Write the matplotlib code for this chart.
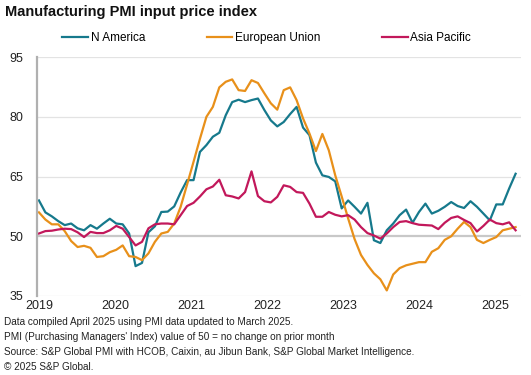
import numpy as np
import matplotlib.pyplot as plt

plt.rcParams['font.family'] = ['Liberation Sans', 'DejaVu Sans']

# Monthly data, Jan 2019 - Mar 2025 --------------------------------
n_america = [59.0, 56.0, 55.0, 53.8, 52.8, 53.2, 52.0, 51.5, 52.8, 51.9,
             53.2, 54.4, 53.2, 53.0, 50.7, 42.5, 43.3, 51.0, 52.5, 56.1,
             56.2, 57.5, 61.0, 64.1, 64.1, 71.2, 72.9, 75.0, 76.0, 80.4,
             83.7, 84.3, 83.7, 84.2, 84.6, 81.7, 79.1, 77.6, 78.7, 80.7,
             82.5, 77.3, 75.4, 68.5, 65.3, 64.9, 63.8, 57.0, 59.0, 57.4,
             55.7, 58.4, 49.0, 48.3, 51.5, 53.2, 55.3, 56.7, 53.4, 56.1,
             58.2, 55.7, 56.4, 57.4, 58.6, 57.6, 57.1, 58.8, 57.4, 55.7,
             54.0, 58.0, 58.0, 62.0, 65.7]
eu = [56.0, 54.2, 53.0, 53.0, 51.3, 48.8, 47.3, 47.6, 47.1, 44.8,
      45.0, 46.0, 46.6, 47.7, 45.0, 44.8, 44.0, 45.7, 48.6, 50.7,
      51.1, 53.2, 57.4, 63.0, 68.7, 74.5, 80.0, 82.5, 87.4, 88.8,
      89.4, 86.7, 86.5, 89.2, 88.5, 85.9, 83.4, 81.8, 86.7, 87.4,
      84.2, 79.6, 75.8, 71.4, 75.7, 71.6, 65.3, 60.0, 54.5, 49.3,
      45.3, 42.8, 40.7, 39.2, 36.4, 40.4, 42.0, 42.7, 43.1, 43.5,
      43.5, 46.1, 47.0, 49.1, 50.0, 51.9, 53.6, 52.3, 49.1, 48.3,
      49.1, 49.8, 51.5, 51.9, 52.3]
asia_pac = [50.7, 51.3, 51.4, 51.7, 51.9, 51.8, 51.0, 49.8, 51.1, 50.8,
            50.8, 51.5, 52.6, 51.9, 49.8, 47.7, 48.6, 52.0, 53.0, 53.2,
            53.2, 53.0, 55.3, 57.6, 58.4, 60.0, 61.8, 62.5, 64.2, 60.3,
            60.0, 59.5, 61.1, 66.3, 60.1, 58.8, 58.5, 59.9, 62.8, 62.4,
            61.1, 60.9, 58.2, 54.9, 54.9, 56.1, 55.4, 55.0, 55.3, 54.2,
            52.3, 50.8, 50.2, 49.4, 50.7, 52.3, 53.6, 53.8, 53.3, 52.9,
            52.8, 52.7, 51.8, 53.4, 54.6, 55.0, 54.1, 53.3, 51.2, 52.6,
            54.2, 53.3, 53.0, 53.5, 51.5]
years = ['2019', '2020', '2021', '2022', '2023', '2024', '2025']
yticks = [35, 50, 65, 80, 95]

months = np.arange(len(n_america))

# Figure -----------------------------------------------------------
fig = plt.figure(figsize=(5.31, 3.75), dpi=100)
ax = fig.add_axes([0.0697, 0.2107, 0.911, 0.637])

ax.plot(months, n_america, color='#16798c', lw=1.6, label='N America')
ax.plot(months, eu, color='#e8901a', lw=1.6, label='European Union')
ax.plot(months, asia_pac, color='#c2185b', lw=1.6, label='Asia Pacific')

ax.set_xlim(-0.3, 74.8)
ax.set_ylim(35, 95)
ax.set_yticks(yticks)
ax.set_xticks([i * 11.8 for i in range(len(years))])
ax.set_xticklabels(years)
ax.tick_params(axis='both', length=0, labelsize=9, colors='#222222')
ax.tick_params(axis='y', pad=10)
ax.tick_params(axis='x', pad=3)

# Grid and spines
for v in [65, 80, 95]:
    ax.axhline(v, color='#e3e3e3', lw=0.9, zorder=0)
ax.axhline(50, color='#c8c8c8', lw=1.6, zorder=0)
ax.axhline(35, color='#e3e3e3', lw=0.9, zorder=0)
for s in ['top', 'right', 'bottom']:
    ax.spines[s].set_visible(False)
ax.spines['left'].set_color('#b0b0b0')
ax.spines['left'].set_linewidth(1.6)

# Title and legend
fig.text(0.009, 0.968, 'Manufacturing PMI input price index', fontsize=10.5,
         fontweight='bold', va='center', ha='left', color='#111111')
fig.legend(loc='center', bbox_to_anchor=(0.502, 0.899), ncol=3, frameon=False,
           fontsize=8.5, handlelength=2.2, handletextpad=0.2, columnspacing=5.2)

# Footnotes
notes = ['Data compiled April 2025 using PMI data updated to March 2025.',
         "PMI (Purchasing Managers' Index) value of 50 = no change on prior month",
         'Source: S&P Global PMI with HCOB, Caixin, au Jibun Bank, S&P Global Market Intelligence.',
         '\u00a9 2025 S&P Global.']
for i, t in enumerate(notes):
    fig.text(0.008, 1 - (322 + 15 * i) / 375, t, fontsize=7.2, va='center',
             ha='left', color='#222222')

fig.savefig('out.png', dpi=100)
